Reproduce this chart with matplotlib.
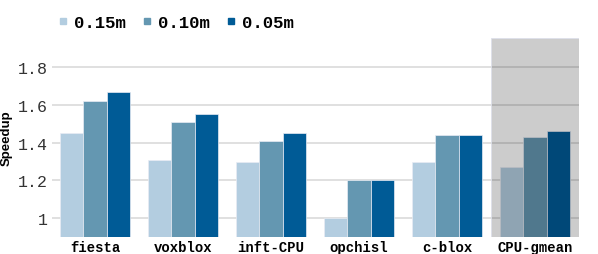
import matplotlib
matplotlib.use("Agg")
import matplotlib.pyplot as plt
import numpy as np
from matplotlib.lines import Line2D

categories = ["fiesta", "voxblox", "inft-CPU", "opchisl", "c-blox", "CPU-gmean"]
series_names = ["0.15m", "0.10m", "0.05m"]
v015 = [1.45, 1.31, 1.30, 1.00, 1.30, 1.27]
v010 = [1.62, 1.51, 1.41, 1.20, 1.44, 1.43]
v005 = [1.67, 1.55, 1.45, 1.20, 1.44, 1.46]
yticks = [1, 1.2, 1.4, 1.6, 1.8]
ytick_labels = ["1", "1.2", "1.4", "1.6", "1.8"]
colors = ["#b3cde0", "#6497b1", "#005b96"]

fig = plt.figure(figsize=(5.98, 2.55), dpi=100)
ax = fig.add_axes([52/598, 17/255, (579-52)/598, (238-39)/255])

x = np.arange(len(categories))
w = 0.265
for i, (vals, name, c) in enumerate(zip([v015, v010, v005], series_names, colors)):
    ax.bar(x + (i - 1) * w, np.array(vals) - 0.9, w, bottom=0.9, color=c,
           edgecolor="#e8ecf4", linewidth=0.5, label=name, zorder=2)

ax.set_ylim(0.9, 1.955)
ax.set_xlim(-0.49, 5.5)
ax.set_yticks(yticks)
ax.set_yticklabels(ytick_labels, family="Liberation Mono", fontsize=12, color="#333333")
ax.set_xticks(x)
ax.set_xticklabels(categories, family="Liberation Mono", fontsize=10, fontweight="bold")
ax.tick_params(axis="x", length=0, pad=2)
ax.tick_params(axis="y", length=0, pad=3)
ax.yaxis.grid(True, color="#dddddd", linewidth=1.3, zorder=0)
ax.set_axisbelow(True)
for s in ax.spines.values():
    s.set_visible(False)

ax.axvspan(4.5, 5.5, ymin=0, ymax=1, facecolor=(0, 0, 0, 0.2), edgecolor="#dde0ea",
           linewidth=0.6, zorder=3)

ax.set_ylabel("Speedup", family="Liberation Sans", fontsize=9.5, fontweight="bold", labelpad=4)

h2 = [Line2D([], [], marker="s", linestyle="none", markersize=5, color=c) for c in colors]
fig.legend(h2, series_names, loc="center left", bbox_to_anchor=(54/598, 1 - 23/255), ncol=3,
           frameon=False, prop={"family": "Liberation Mono", "weight": "bold", "size": 12.5},
           handletextpad=0.15, columnspacing=0.7, handlelength=1.0, borderaxespad=0, borderpad=0)

fig.savefig("out.png", dpi=100)
